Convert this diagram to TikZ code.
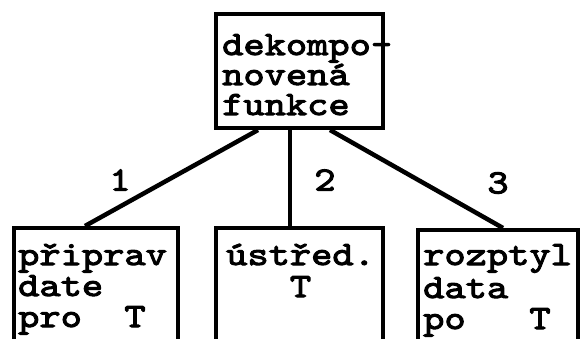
\documentclass[tikz,border=0pt]{standalone}
\usepackage{fontspec}
\usetikzlibrary{calc}
\newfontfamily\typewr{lmmono10-regular.otf}[FakeStretch=1.19,FakeBold=3]
\newcommand\printfont{\typewr\fontsize{34}{30}\selectfont}
\begin{document}
\begin{tikzpicture}[x=1pt,y=1pt,
  box/.style={draw,line width=4pt,minimum width=#1,inner sep=0pt},
  txt/.style={anchor=base west,inner sep=0pt,font=\printfont},
  lbl/.style={inner sep=0pt,font=\printfont},
  link/.style={line width=4.5pt}]
\useasboundingbox (0,0) rectangle (581,338);
\clip (0,0) rectangle (581,338);
\fill[white] (0,0) rectangle (581,338);

% parent box
\node[box=167pt,minimum height=114pt] (top) at (299.5,267) {};
\node[txt] (t1) at (222,283) {dekompo-};
\node[txt] (t2) at (222,253) {novená};
\node[txt] (t3) at (222,223) {funkce};

% child boxes, running past the lower edge
\node[box=164pt,minimum height=130pt] (left) at (96,45) {};
\node[txt] (a1) at (18,73) {připrav};
\node[txt] (a2) at (18,42) {date};
\node[txt] (a3) at (18,11) {pro\ \ T};

\node[box=167pt,minimum height=130pt] (mid) at (299.5,45) {};
\node[txt] (b1) at (226,73) {ústřed.};
\node[txt] (b2) at (226,41) {\ \ \ T};

\node[box=160pt,minimum height=130pt] (right) at (498,43) {};
\node[txt] (c1) at (423,73) {rozptyl};
\node[txt] (c2) at (423,40) {data};
\node[txt] (c3) at (423,9) {po\ \ \ T};

% connectors
\draw[link] ([xshift=-41.5pt]top.south) -- ([xshift=-11pt]left.north);
\draw[link] ([xshift=-9.5pt]top.south) -- ([xshift=-9.5pt]mid.north);
\draw[link] ([xshift=30.5pt]top.south) -- ([xshift=5pt]right.north);

% branch numbers
\node[lbl] (n1) at (120,158) {1};
\node[lbl] (n2) at (325,158) {2};
\node[lbl] (n3) at (498,155) {3};
\end{tikzpicture}
\end{document}
